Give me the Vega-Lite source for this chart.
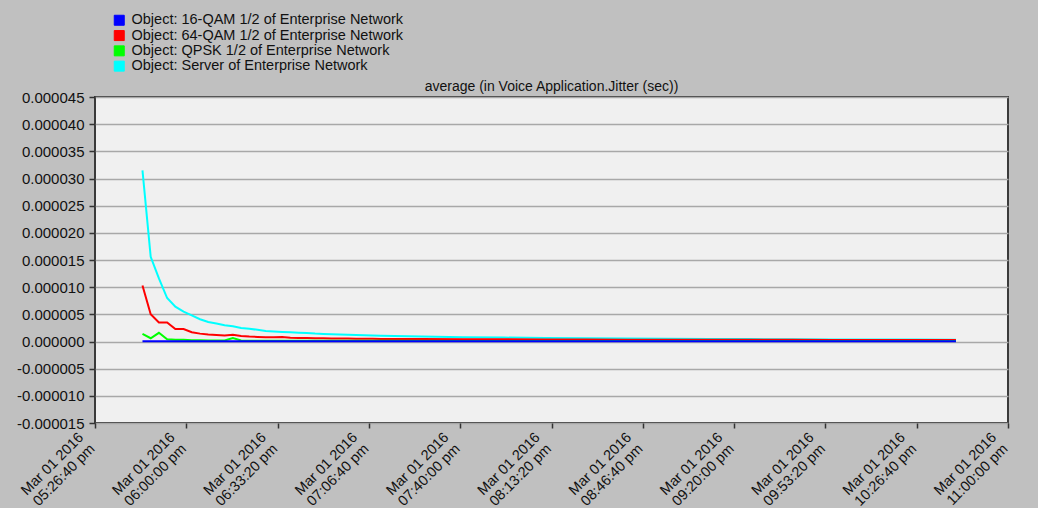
{
  "$schema": "https://vega.github.io/schema/vega-lite/v6.json",
  "width": 913,
  "height": 326,
  "autosize": {"type": "none"},
  "padding": {"left": 95, "top": 97, "right": 30, "bottom": 85},
  "background": "#c0c0c0",
  "title": {"text": "average (in Voice Application.Jitter (sec))", "anchor": "middle", "offset": -81, "fontSize": 14, "fontWeight": "normal", "font": "Liberation Sans", "color": "#111"},
  "config": {
    "font": "Liberation Sans",
    "view": {"fill": "#f0f0f0", "stroke": "#3a3a3a", "strokeWidth": 2}
  },
  "data": {"values": [
    {"t":"2016-03-01T17:44:00","s":"Server","v":0.0000315},
    {"t":"2016-03-01T17:47:00","s":"Server","v":0.0000156},
    {"t":"2016-03-01T17:50:00","s":"Server","v":0.0000116},
    {"t":"2016-03-01T17:53:00","s":"Server","v":0.0000080},
    {"t":"2016-03-01T17:56:00","s":"Server","v":0.0000064},
    {"t":"2016-03-01T17:59:00","s":"Server","v":0.0000055},
    {"t":"2016-03-01T18:02:00","s":"Server","v":0.0000048},
    {"t":"2016-03-01T18:05:00","s":"Server","v":0.0000041},
    {"t":"2016-03-01T18:08:00","s":"Server","v":0.0000036},
    {"t":"2016-03-01T18:11:00","s":"Server","v":0.0000033},
    {"t":"2016-03-01T18:14:00","s":"Server","v":0.0000030},
    {"t":"2016-03-01T18:17:00","s":"Server","v":0.0000028},
    {"t":"2016-03-01T18:20:00","s":"Server","v":0.0000025},
    {"t":"2016-03-01T18:23:00","s":"Server","v":0.00000235},
    {"t":"2016-03-01T18:26:00","s":"Server","v":0.00000215},
    {"t":"2016-03-01T18:29:00","s":"Server","v":0.00000195},
    {"t":"2016-03-01T18:32:00","s":"Server","v":0.00000185},
    {"t":"2016-03-01T18:35:00","s":"Server","v":0.00000175},
    {"t":"2016-03-01T18:38:00","s":"Server","v":0.00000168},
    {"t":"2016-03-01T18:41:00","s":"Server","v":0.0000016},
    {"t":"2016-03-01T18:44:00","s":"Server","v":0.00000155},
    {"t":"2016-03-01T18:47:00","s":"Server","v":0.00000145},
    {"t":"2016-03-01T18:50:00","s":"Server","v":0.0000014},
    {"t":"2016-03-01T18:53:00","s":"Server","v":0.00000135},
    {"t":"2016-03-01T18:56:00","s":"Server","v":0.0000013},
    {"t":"2016-03-01T18:59:00","s":"Server","v":0.00000125},
    {"t":"2016-03-01T19:02:00","s":"Server","v":0.0000012},
    {"t":"2016-03-01T19:05:00","s":"Server","v":0.00000115},
    {"t":"2016-03-01T19:08:00","s":"Server","v":0.0000011},
    {"t":"2016-03-01T19:11:00","s":"Server","v":0.00000106},
    {"t":"2016-03-01T19:26:00","s":"Server","v":0.00000092},
    {"t":"2016-03-01T19:41:00","s":"Server","v":0.0000008},
    {"t":"2016-03-01T19:56:00","s":"Server","v":0.00000072},
    {"t":"2016-03-01T20:11:00","s":"Server","v":0.00000065},
    {"t":"2016-03-01T20:26:00","s":"Server","v":0.0000006},
    {"t":"2016-03-01T20:41:00","s":"Server","v":0.00000055},
    {"t":"2016-03-01T20:56:00","s":"Server","v":0.0000005},
    {"t":"2016-03-01T21:11:00","s":"Server","v":0.00000047},
    {"t":"2016-03-01T21:26:00","s":"Server","v":0.00000044},
    {"t":"2016-03-01T21:41:00","s":"Server","v":0.00000041},
    {"t":"2016-03-01T21:56:00","s":"Server","v":0.00000039},
    {"t":"2016-03-01T22:11:00","s":"Server","v":0.00000037},
    {"t":"2016-03-01T22:26:00","s":"Server","v":0.00000035},
    {"t":"2016-03-01T22:41:00","s":"Server","v":0.00000034},

    {"t":"2016-03-01T17:44:00","s":"64-QAM 1/2","v":0.0000103},
    {"t":"2016-03-01T17:47:00","s":"64-QAM 1/2","v":0.0000050},
    {"t":"2016-03-01T17:50:00","s":"64-QAM 1/2","v":0.0000035},
    {"t":"2016-03-01T17:53:00","s":"64-QAM 1/2","v":0.0000035},
    {"t":"2016-03-01T17:56:00","s":"64-QAM 1/2","v":0.0000023},
    {"t":"2016-03-01T17:59:00","s":"64-QAM 1/2","v":0.0000023},
    {"t":"2016-03-01T18:02:00","s":"64-QAM 1/2","v":0.0000017},
    {"t":"2016-03-01T18:05:00","s":"64-QAM 1/2","v":0.00000145},
    {"t":"2016-03-01T18:08:00","s":"64-QAM 1/2","v":0.0000013},
    {"t":"2016-03-01T18:11:00","s":"64-QAM 1/2","v":0.0000012},
    {"t":"2016-03-01T18:14:00","s":"64-QAM 1/2","v":0.0000011},
    {"t":"2016-03-01T18:17:00","s":"64-QAM 1/2","v":0.00000125},
    {"t":"2016-03-01T18:20:00","s":"64-QAM 1/2","v":0.000001},
    {"t":"2016-03-01T18:23:00","s":"64-QAM 1/2","v":0.0000009},
    {"t":"2016-03-01T18:26:00","s":"64-QAM 1/2","v":0.00000085},
    {"t":"2016-03-01T18:29:00","s":"64-QAM 1/2","v":0.0000008},
    {"t":"2016-03-01T18:32:00","s":"64-QAM 1/2","v":0.0000008},
    {"t":"2016-03-01T18:35:00","s":"64-QAM 1/2","v":0.00000085},
    {"t":"2016-03-01T18:38:00","s":"64-QAM 1/2","v":0.0000007},
    {"t":"2016-03-01T18:41:00","s":"64-QAM 1/2","v":0.00000066},
    {"t":"2016-03-01T18:44:00","s":"64-QAM 1/2","v":0.00000063},
    {"t":"2016-03-01T18:47:00","s":"64-QAM 1/2","v":0.0000006},
    {"t":"2016-03-01T18:50:00","s":"64-QAM 1/2","v":0.00000058},
    {"t":"2016-03-01T18:53:00","s":"64-QAM 1/2","v":0.00000056},
    {"t":"2016-03-01T18:56:00","s":"64-QAM 1/2","v":0.00000055},
    {"t":"2016-03-01T18:59:00","s":"64-QAM 1/2","v":0.00000054},
    {"t":"2016-03-01T19:02:00","s":"64-QAM 1/2","v":0.00000052},
    {"t":"2016-03-01T19:05:00","s":"64-QAM 1/2","v":0.0000005},
    {"t":"2016-03-01T19:08:00","s":"64-QAM 1/2","v":0.00000049},
    {"t":"2016-03-01T19:11:00","s":"64-QAM 1/2","v":0.00000048},
    {"t":"2016-03-01T19:26:00","s":"64-QAM 1/2","v":0.00000045},
    {"t":"2016-03-01T19:41:00","s":"64-QAM 1/2","v":0.00000042},
    {"t":"2016-03-01T19:56:00","s":"64-QAM 1/2","v":0.0000004},
    {"t":"2016-03-01T20:11:00","s":"64-QAM 1/2","v":0.00000038},
    {"t":"2016-03-01T20:26:00","s":"64-QAM 1/2","v":0.00000036},
    {"t":"2016-03-01T20:41:00","s":"64-QAM 1/2","v":0.00000034},
    {"t":"2016-03-01T20:56:00","s":"64-QAM 1/2","v":0.00000033},
    {"t":"2016-03-01T21:11:00","s":"64-QAM 1/2","v":0.00000032},
    {"t":"2016-03-01T21:26:00","s":"64-QAM 1/2","v":0.00000031},
    {"t":"2016-03-01T21:41:00","s":"64-QAM 1/2","v":0.0000003},
    {"t":"2016-03-01T21:56:00","s":"64-QAM 1/2","v":0.00000029},
    {"t":"2016-03-01T22:11:00","s":"64-QAM 1/2","v":0.00000028},
    {"t":"2016-03-01T22:26:00","s":"64-QAM 1/2","v":0.00000027},
    {"t":"2016-03-01T22:41:00","s":"64-QAM 1/2","v":0.00000026},

    {"t":"2016-03-01T17:44:00","s":"QPSK 1/2","v":0.0000014},
    {"t":"2016-03-01T17:47:00","s":"QPSK 1/2","v":0.0000006},
    {"t":"2016-03-01T17:50:00","s":"QPSK 1/2","v":0.0000016},
    {"t":"2016-03-01T17:53:00","s":"QPSK 1/2","v":0.0000004},
    {"t":"2016-03-01T17:56:00","s":"QPSK 1/2","v":0.0000003},
    {"t":"2016-03-01T17:59:00","s":"QPSK 1/2","v":0.0000003},
    {"t":"2016-03-01T18:02:00","s":"QPSK 1/2","v":0.00000025},
    {"t":"2016-03-01T18:05:00","s":"QPSK 1/2","v":0.00000025},
    {"t":"2016-03-01T18:08:00","s":"QPSK 1/2","v":0.0000002},
    {"t":"2016-03-01T18:11:00","s":"QPSK 1/2","v":0.0000002},
    {"t":"2016-03-01T18:14:00","s":"QPSK 1/2","v":0.0000002},
    {"t":"2016-03-01T18:17:00","s":"QPSK 1/2","v":0.00000065},
    {"t":"2016-03-01T18:20:00","s":"QPSK 1/2","v":0.0000002},
    {"t":"2016-03-01T18:23:00","s":"QPSK 1/2","v":0.00000015},
    {"t":"2016-03-01T18:26:00","s":"QPSK 1/2","v":0.00000015},
    {"t":"2016-03-01T18:41:00","s":"QPSK 1/2","v":0.00000013},
    {"t":"2016-03-01T19:11:00","s":"QPSK 1/2","v":0.00000012},
    {"t":"2016-03-01T19:41:00","s":"QPSK 1/2","v":0.00000011},
    {"t":"2016-03-01T20:41:00","s":"QPSK 1/2","v":0.0000001},
    {"t":"2016-03-01T21:41:00","s":"QPSK 1/2","v":0.0000001},
    {"t":"2016-03-01T22:41:00","s":"QPSK 1/2","v":0.0000001},

    {"t":"2016-03-01T17:44:00","s":"16-QAM 1/2","v":0.00000003},
    {"t":"2016-03-01T18:11:00","s":"16-QAM 1/2","v":0.00000003},
    {"t":"2016-03-01T18:41:00","s":"16-QAM 1/2","v":0.00000003},
    {"t":"2016-03-01T19:11:00","s":"16-QAM 1/2","v":0.00000003},
    {"t":"2016-03-01T20:11:00","s":"16-QAM 1/2","v":0.00000003},
    {"t":"2016-03-01T21:11:00","s":"16-QAM 1/2","v":0.00000003},
    {"t":"2016-03-01T22:41:00","s":"16-QAM 1/2","v":0.00000003}
  ]},
  "mark": {"type": "line", "strokeWidth": 2},
  "encoding": {
    "x": {
      "field": "t", "type": "temporal",
      "scale": {"domain": [
        {"year": 2016, "month": 3, "date": 1, "hours": 17, "minutes": 26, "seconds": 40},
        {"year": 2016, "month": 3, "date": 1, "hours": 23, "minutes": 0, "seconds": 0}
      ], "nice": false},
      "axis": {
        "values": [
          {"year": 2016, "month": 3, "date": 1, "hours": 17, "minutes": 26, "seconds": 40},
          {"year": 2016, "month": 3, "date": 1, "hours": 18, "minutes": 0, "seconds": 0},
          {"year": 2016, "month": 3, "date": 1, "hours": 18, "minutes": 33, "seconds": 20},
          {"year": 2016, "month": 3, "date": 1, "hours": 19, "minutes": 6, "seconds": 40},
          {"year": 2016, "month": 3, "date": 1, "hours": 19, "minutes": 40, "seconds": 0},
          {"year": 2016, "month": 3, "date": 1, "hours": 20, "minutes": 13, "seconds": 20},
          {"year": 2016, "month": 3, "date": 1, "hours": 20, "minutes": 46, "seconds": 40},
          {"year": 2016, "month": 3, "date": 1, "hours": 21, "minutes": 20, "seconds": 0},
          {"year": 2016, "month": 3, "date": 1, "hours": 21, "minutes": 53, "seconds": 20},
          {"year": 2016, "month": 3, "date": 1, "hours": 22, "minutes": 26, "seconds": 40},
          {"year": 2016, "month": 3, "date": 1, "hours": 23, "minutes": 0, "seconds": 0}
        ],
        "labelExpr": "[timeFormat(datum.value, '%b %d %Y'), lower(timeFormat(datum.value, '%I:%M:%S %p'))]",
        "labelAngle": -45, "labelAlign": "right", "labelBaseline": "middle",
        "labelOffset": -14, "labelPadding": 7, "labelLineHeight": 16,
        "labelOverlap": false, "labelBound": false, "labelFlush": false,
        "labelFontSize": 14.5, "labelColor": "#111",
        "grid": false, "title": null, "domain": false,
        "tickColor": "#333", "tickSize": 5, "tickWidth": 1.5
      }
    },
    "y": {
      "field": "v", "type": "quantitative",
      "scale": {"domain": [-0.000015, 0.000045], "nice": false, "zero": false},
      "axis": {
        "values": [-0.000015, -0.00001, -0.000005, 0, 0.000005, 0.00001, 0.000015, 0.00002, 0.000025, 0.00003, 0.000035, 0.00004, 0.000045],
        "labelExpr": "replace(format(datum.value, '.6f'), '\u2212', '-')",
        "title": null, "grid": true, "gridColor": "#a8a8a8", "gridWidth": 1.5,
        "domain": false, "tickColor": "#333", "tickSize": 6, "tickWidth": 1.5,
        "labelFontSize": 15, "labelColor": "#111", "labelPadding": 5,
        "labelOverlap": false, "labelBound": false, "labelFlush": false
      }
    },
    "color": {
      "field": "s", "type": "nominal",
      "scale": {"domain": ["16-QAM 1/2", "64-QAM 1/2", "QPSK 1/2", "Server"], "range": ["#0000ff", "#ff0000", "#00ff00", "#00ffff"]},
      "legend": {
        "title": null, "orient": "none", "legendX": 17, "legendY": -84,
        "symbolType": "square", "symbolSize": 100, "symbolStrokeWidth": 1, "symbolStrokeColor": "#000",
        "labelFontSize": 14.5, "labelColor": "#111", "labelOffset": 5,
        "rowPadding": -0.7, "padding": 0, "labelLimit": 0,
        "labelExpr": "'Object: ' + datum.label + ' of Enterprise Network'",
        "encode": {"symbols": {"update": {
          "fill": {"scale": "color", "field": "value"},
          "stroke": {"value": "#000"},
          "strokeWidth": {"value": 1},
          "opacity": {"value": 1}
        }}}
      }
    }
  }
}
